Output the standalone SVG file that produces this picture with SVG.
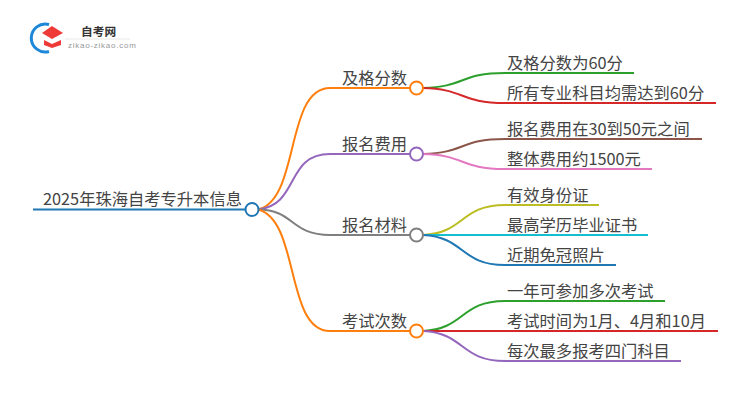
<svg xmlns="http://www.w3.org/2000/svg" width="750" height="410" viewBox="0 0 750 410">
<style>
text{font-family:"Noto Sans CJK SC","Noto Sans",sans-serif;font-size:16.300px;fill:#444}
.l{fill:none;stroke-width:2}
.n{fill:#fff;stroke-width:2}
</style>
<rect width="750" height="410" fill="#fff"/>
<g id="logo">
<path d="M49 24.500A14 14 0 1 0 49 51.500" fill="none" stroke="#1e88d8" stroke-width="3"/>
<path d="M52 26L63 33L52 39L42 33Z" fill="#ee3b37"/>
<path d="M44 40L52 44L61 40V45L52 48L44 45Z" fill="#ee3b37"/>
<text x="81" y="35.500" style="font-size:11.700px;font-weight:700;fill:#333">自考网</text>
<path d="M65 39H130" stroke="#e8e8e8" stroke-width="1"/>
<text x="68" y="48" style="font-size:8px;fill:#999;font-family:'Liberation Sans',sans-serif;letter-spacing:.75px">zikao-zikao.com</text>
</g>
<g id="connectors">
<path class="l" stroke="#1f77b4" d="M33 209.500H245"/>
<path class="l" stroke="#ff7f0e" d="M258 209.500C300 200 285 88 330 88H410"/>
<path class="l" stroke="#9467bd" d="M258 209.500C300 205 285 154 330 154H410"/>
<path class="l" stroke="#7f7f7f" d="M258 209.500C295 210 290 235 330 235H410"/>
<path class="l" stroke="#ff7f0e" d="M258 209.500C300 220 285 331 330 331H410"/>
<path class="l" stroke="#2ca02c" d="M423 88C465 87 460 73 505 73H634"/>
<path class="l" stroke="#d62728" d="M423 88C465 89 460 103 505 103H716"/>
<path class="l" stroke="#8c564b" d="M423 154C465 153 460 139 505 139H702"/>
<path class="l" stroke="#e377c2" d="M423 154C465 155 460 169 505 169H652"/>
<path class="l" stroke="#bcbd22" d="M423 235C465 233 460 205 505 205H599"/>
<path class="l" stroke="#17becf" d="M423 235H648"/>
<path class="l" stroke="#1f77b4" d="M423 235C465 237 460 265 505 265H616"/>
<path class="l" stroke="#2ca02c" d="M423 331C465 329 460 301 505 301H665"/>
<path class="l" stroke="#d62728" d="M423 331H718"/>
<path class="l" stroke="#9467bd" d="M423 331C465 333 460 361 505 361H681"/>
</g>
<g id="root"><circle class="n" stroke="#1f77b4" cx="252" cy="209.500" r="6.500"/><text x="43" y="204.500">2025年珠海自考专升本信息</text></g>
<g id="n1"><circle class="n" stroke="#ff7f0e" cx="416.500" cy="88" r="6.500"/><text x="342" y="83.500">及格分数</text></g>
<g id="n2"><circle class="n" stroke="#9467bd" cx="416.500" cy="154" r="6.500"/><text x="342" y="149.500">报名费用</text></g>
<g id="n3"><circle class="n" stroke="#7f7f7f" cx="416.500" cy="235" r="6.500"/><text x="342" y="230.500">报名材料</text></g>
<g id="n4"><circle class="n" stroke="#ff7f0e" cx="416.500" cy="331" r="6.500"/><text x="342" y="326.500">考试次数</text></g>
<g id="l1"><text x="507" y="69">及格分数为60分</text></g>
<g id="l2"><text x="507" y="99">所有专业科目均需达到60分</text></g>
<g id="l3"><text x="507" y="135">报名费用在30到50元之间</text></g>
<g id="l4"><text x="507" y="165">整体费用约1500元</text></g>
<g id="l5"><text x="507" y="201">有效身份证</text></g>
<g id="l6"><text x="507" y="231">最高学历毕业证书</text></g>
<g id="l7"><text x="507" y="261">近期免冠照片</text></g>
<g id="l8"><text x="507" y="297">一年可参加多次考试</text></g>
<g id="l9"><text x="507" y="327">考试时间为1月、4月和10月</text></g>
<g id="l10"><text x="507" y="357">每次最多报考四门科目</text></g>
</svg>
